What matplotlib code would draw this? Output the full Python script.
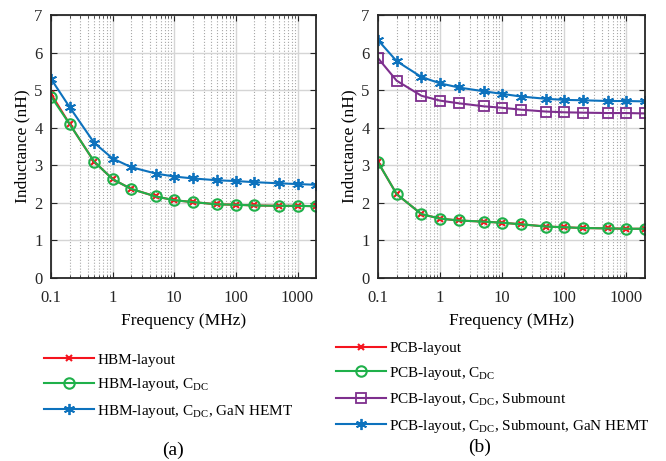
import matplotlib
matplotlib.use("Agg")
import matplotlib.pyplot as plt
from matplotlib.ticker import LogLocator, FixedLocator, NullFormatter

plt.rcParams['font.family'] = ['Liberation Serif', 'DejaVu Serif']
plt.rcParams['mathtext.fontset'] = 'custom'
plt.rcParams['mathtext.rm'] = 'Liberation Serif'
plt.rcParams['mathtext.it'] = 'Liberation Serif:italic'

# frequency points (MHz)
freq = [0.1, 0.2, 0.5, 1, 2, 5, 10, 20, 50, 100, 200, 500, 1000, 2000]

# (a) HBM layout inductance (nH)
hbm = [4.9, 4.1, 3.1, 2.63, 2.37, 2.17, 2.07, 2.02, 1.96, 1.95, 1.93, 1.92, 1.92, 1.91]
hbm_cdc = [4.83, 4.1, 3.1, 2.63, 2.37, 2.17, 2.07, 2.02, 1.96, 1.95, 1.93, 1.92, 1.92, 1.91]
hbm_cdc_gan = [5.3, 4.55, 3.6, 3.18, 2.95, 2.78, 2.7, 2.65, 2.6, 2.58, 2.55, 2.52, 2.5, 2.48]

# (b) PCB layout inductance (nH)
pcb = [3.08, 2.23, 1.7, 1.58, 1.53, 1.5, 1.47, 1.43, 1.37, 1.35, 1.33, 1.32, 1.31, 1.31]
pcb_cdc = [3.08, 2.23, 1.7, 1.58, 1.53, 1.5, 1.47, 1.43, 1.37, 1.35, 1.33, 1.32, 1.31, 1.31]
pcb_sub = [5.85, 5.25, 4.85, 4.72, 4.65, 4.57, 4.53, 4.48, 4.43, 4.41, 4.4, 4.39, 4.39, 4.38]
pcb_sub_gan = [6.33, 5.77, 5.35, 5.18, 5.07, 4.97, 4.9, 4.83, 4.77, 4.74, 4.73, 4.71, 4.71, 4.7]

labels_a = ['HBM-layout', r'HBM-layout, C$_{\mathrm{DC}}$',
            r'HBM-layout, C$_{\mathrm{DC}}$, GaN HEMT']
labels_b = ['PCB-layout', r'PCB-layout, C$_{\mathrm{DC}}$',
            r'PCB-layout, C$_{\mathrm{DC}}$, Submount',
            r'PCB-layout, C$_{\mathrm{DC}}$, Submount, GaN HEMT']

RED = '#F5141E'
GREEN = '#1FB04A'
BLUE = '#0D72BD'
PURPLE = '#7E2F8E'

styles = {
    'red': dict(color=RED, marker='x', ms=5, mew=1.5),
    'green': dict(color=GREEN, marker='o', ms=7.5, mfc='none', mew=1.5),
    'purple': dict(color=PURPLE, marker='s', ms=6.5, mfc='none', mew=1.3),
    'blue': dict(color=BLUE, marker=(6, 2, 0), ms=8, mew=1.3),
}

fig = plt.figure(figsize=(6.66, 4.61), dpi=100)
ax_a = fig.add_axes([0.0766, 0.397, 0.398, 0.5705])
ax_b = fig.add_axes([0.5676, 0.397, 0.401, 0.5705])


def style_axis(ax):
    ax.set_xscale('log')
    ax.set_xlim(0.1, 2000)
    ax.set_ylim(0, 7)
    ax.xaxis.set_major_locator(FixedLocator([0.1, 1, 10, 100, 1000]))
    ax.set_xticklabels(['0.1', '1', '10', '100', '1000'])
    ax.xaxis.set_minor_locator(LogLocator(base=10, subs=range(2, 10), numticks=20))
    ax.xaxis.set_minor_formatter(NullFormatter())
    ax.set_yticks(range(0, 8))
    ax.grid(which='major', color='#d5d5d5', lw=1.0, ls='-')
    ax.grid(which='minor', axis='x', color='#a8a8a8', lw=0.8, ls=':')
    ax.set_axisbelow(True)
    ax.tick_params(which='both', direction='in', top=True, right=True,
                   labelsize=12, colors='#262626')
    ax.tick_params(which='major', length=4)
    ax.tick_params(which='minor', length=2)
    ax.tick_params(axis='x', which='major', pad=9)
    ax.tick_params(axis='y', which='major', pad=6)
    for s in ax.spines.values():
        s.set_color('#262626')
        s.set_linewidth(1.3)
    ax.set_xlabel('Frequency (MHz)', fontsize=12.5, labelpad=5)
    ax.set_ylabel('Inductance (nH)', fontsize=12.5, labelpad=3)


h_a = []
h_a += ax_a.plot(freq, hbm, lw=1.5, **styles['red'])
h_a += ax_a.plot(freq, hbm_cdc, lw=1.5, **styles['green'])
h_a += ax_a.plot(freq, hbm_cdc_gan, lw=1.5, **styles['blue'])
style_axis(ax_a)

h_b = []
h_b += ax_b.plot(freq, pcb, lw=1.5, **styles['red'])
h_b += ax_b.plot(freq, pcb_cdc, lw=1.5, **styles['green'])
h_b += ax_b.plot(freq, pcb_sub, lw=1.5, **styles['purple'])
h_b += ax_b.plot(freq, pcb_sub_gan, lw=1.5, **styles['blue'])
style_axis(ax_b)

leg_kw = dict(frameon=False, fontsize=11, handlelength=3.25, handletextpad=0.25,
              labelspacing=0.62, borderaxespad=0, borderpad=0)
fig.legend(h_a, labels_a, loc='upper left', bbox_to_anchor=(0.066, 0.234), **leg_kw)
fig.legend(h_b, labels_b, loc='upper left', bbox_to_anchor=(0.5045, 0.259), **leg_kw)

fig.text(0.26, 0.024, '(a)', fontsize=14, ha='center', va='center')
fig.text(0.7207, 0.030, '(b)', fontsize=14, ha='center', va='center')

fig.savefig('out.png', dpi=100)
